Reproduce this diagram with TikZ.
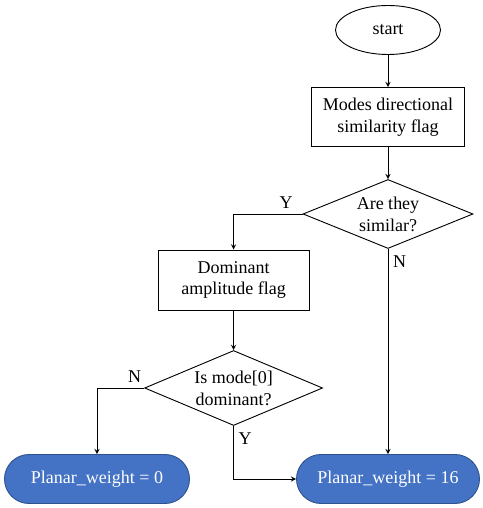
\documentclass[tikz,border=0pt]{standalone}
\usepackage{fontspec}
\setmainfont{Liberation Serif}
\usetikzlibrary{shapes.geometric,shapes.misc}
\definecolor{pillblue}{HTML}{4472C4}
\definecolor{pilledge}{HTML}{2F528F}
\begin{document}
\begin{tikzpicture}[>=stealth,line width=0.65pt,
        font=\fontsize{12.8}{15.5}\selectfont,
        box/.style={draw,rectangle,align=center,inner sep=0pt},
        choice/.style={draw,diamond,aspect=2.5,inner sep=0pt,align=center},
        result/.style={draw=pilledge,fill=pillblue,rounded rectangle,text=white,inner sep=0pt,minimum height=1.225cm}]
            \useasboundingbox (0,0) rectangle (12.075,12.7);
            \node[draw,ellipse,minimum width=2.625cm,minimum height=1.225cm,inner sep=0pt] (start) at (9.7,11.95) {start};
            \node[box,minimum width=3.825cm,minimum height=1.475cm] (simflag) at (9.7,9.775) {Modes directional\\similarity flag};
            \node[choice,minimum width=4.25cm,minimum height=1.725cm] (similar) at (9.7,7.35) {Are they\\similar?};
            \node[box,minimum width=3.775cm,minimum height=1.5cm] (ampflag) at (5.84,5.7) {Dominant\\amplitude flag};
            \node[choice,minimum width=4.45cm,minimum height=1.875cm] (dominant) at (5.84,3.0) {Is mode[0]\\dominant?};
            \node[result,minimum width=4.625cm] (zero) at (2.425,0.725) {Planar\_weight = 0};
            \node[result,minimum width=4.575cm] (sixteen) at (9.7,0.725) {Planar\_weight = 16};
            \draw[->] (start) -- (simflag);
            \draw[->] (simflag) -- (similar);
            \draw[->] (similar.west) -| (ampflag.north) node[pos=0.12,above]{Y};
            \draw[->] (similar.south) -- (sixteen.north) node[pos=0.06,right]{N};
            \draw[->] (ampflag) -- (dominant);
            \draw[->] (dominant.west) -| (zero.north) node[pos=0.1,above]{N};
            \draw[->] (dominant.south) |- (sixteen.west) node[pos=0.12,right]{Y};
        \end{tikzpicture}
\end{document}
